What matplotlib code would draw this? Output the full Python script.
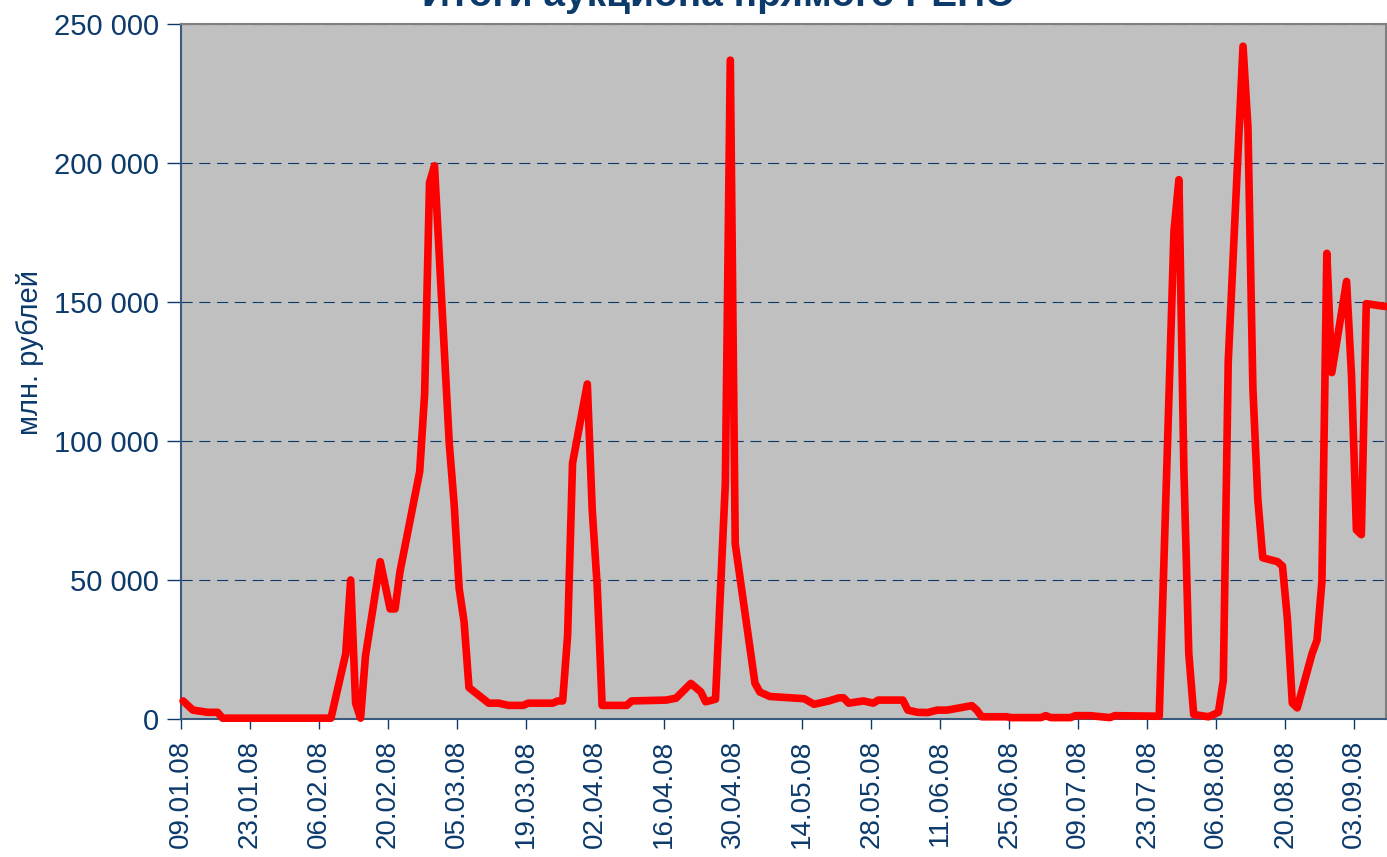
import numpy as np
import pandas as pd
import matplotlib
matplotlib.use("Agg")
import matplotlib.pyplot as plt
import matplotlib.dates as mdates
from matplotlib.ticker import FuncFormatter, FixedLocator

# Итоги аукциона прямого РЕПО, млн. рублей
dates = [
    "2008-01-09", "2008-01-11", "2008-01-14", "2008-01-16", "2008-01-17",
    "2008-02-08", "2008-02-11", "2008-02-12", "2008-02-13", "2008-02-14",
    "2008-02-15", "2008-02-18", "2008-02-20", "2008-02-21", "2008-02-22",
    "2008-02-26", "2008-02-27", "2008-02-28", "2008-02-29", "2008-03-03",
    "2008-03-04", "2008-03-05", "2008-03-06", "2008-03-07", "2008-03-11",
    "2008-03-13", "2008-03-15", "2008-03-18", "2008-03-19", "2008-03-24",
    "2008-03-25", "2008-03-26", "2008-03-27", "2008-03-28", "2008-03-31",
    "2008-04-01", "2008-04-02", "2008-04-03", "2008-04-08", "2008-04-09",
    "2008-04-16", "2008-04-18", "2008-04-21", "2008-04-23", "2008-04-24",
    "2008-04-26", "2008-04-28", "2008-04-29", "2008-04-30", "2008-05-04",
    "2008-05-05", "2008-05-07", "2008-05-14", "2008-05-16", "2008-05-19",
    "2008-05-21", "2008-05-22", "2008-05-23", "2008-05-26", "2008-05-28",
    "2008-05-29", "2008-06-03", "2008-06-04", "2008-06-06", "2008-06-08",
    "2008-06-10", "2008-06-12", "2008-06-17", "2008-06-18", "2008-06-19",
    "2008-06-24", "2008-06-25", "2008-07-01", "2008-07-02", "2008-07-03",
    "2008-07-07", "2008-07-08", "2008-07-11", "2008-07-15", "2008-07-16",
    "2008-07-25", "2008-07-28", "2008-07-29", "2008-07-30", "2008-07-31",
    "2008-08-01", "2008-08-04", "2008-08-06", "2008-08-07", "2008-08-08",
    "2008-08-11", "2008-08-12", "2008-08-13", "2008-08-14", "2008-08-15",
    "2008-08-18", "2008-08-19", "2008-08-20", "2008-08-21", "2008-08-22",
    "2008-08-25", "2008-08-26", "2008-08-27", "2008-08-28", "2008-08-29",
    "2008-09-01", "2008-09-02", "2008-09-03", "2008-09-04", "2008-09-05",
    "2008-09-08", "2008-09-09",
]

volume = [
    6500, 3200, 2400, 2400, 300,
    300, 23500, 50000, 5700, 300,
    22600, 56600, 39600, 39600, 53000,
    89000, 117000, 193000, 199000, 99000,
    77000, 47000, 35000, 11300, 5700,
    5700, 4900, 4900, 5700, 5700,
    6500, 6500, 30000, 92000, 120500,
    75000, 48000, 4900, 4900, 6500,
    6800, 7500, 12800, 9800, 6200,
    7100, 85000, 237000, 63000, 12900,
    9700, 8100, 7300, 5300, 6500,
    7600, 7600, 5700, 6500, 5700,
    6800, 6800, 3200, 2400, 2300,
    3200, 3200, 4800, 3200, 800,
    800, 500, 500, 1200, 500,
    500, 1200, 1200, 500, 1200,
    1000, 175600, 194000, 90000, 23500,
    1600, 800, 2400, 13800, 128600,
    242000, 212800, 119000, 79000, 58000,
    56600, 55000, 36000, 5700, 4000,
    23500, 28300, 49400, 167500, 124600,
    157400, 123800, 68000, 66300, 149400,
    148600, 148400,
]

title = "Итоги аукциона прямого РЕПО"
y_label = "млн. рублей"

navy = "#0B3A6B"

plt.rcParams['font.family'] = ['Liberation Sans', 'DejaVu Sans']

fig = plt.figure(figsize=(13.87, 8.57), dpi=100)
ax = fig.add_axes([181 / 1387, 138 / 857, 1205 / 1387, 695 / 857])
ax.set_facecolor("#C0C0C0")

# shift half a day so the marks sit where the source chart puts them
x = pd.to_datetime(dates) + pd.Timedelta(hours=10)
ax.plot(x, volume, color="#FF0000", linewidth=5.5, solid_joinstyle="round",
        solid_capstyle="round", clip_on=False, zorder=3)

ax.set_xlim(pd.Timestamp("2008-01-09"), pd.Timestamp("2008-09-09 10:00"))
ax.set_ylim(0, 250000)

# ticks every two weeks
ticks = pd.date_range("2008-01-09", "2008-09-09", freq="14D")
ax.xaxis.set_major_locator(FixedLocator(mdates.date2num(ticks)))
ax.xaxis.set_major_formatter(mdates.DateFormatter("%d.%m.%y"))
ax.set_yticks(np.arange(0, 250001, 50000))
ax.yaxis.set_major_formatter(FuncFormatter(lambda v, p: f"{v:,.0f}".replace(",", " ")))

ax.tick_params(axis="x", labelrotation=90, labelsize=20, colors=navy,
               length=7, width=1, pad=8, direction="out")
ax.tick_params(axis="y", labelsize=21, colors=navy, length=10, width=1,
               pad=6, direction="out")

ax.grid(axis="y", color=navy, linestyle=(0, (10, 6)), linewidth=0.8)
ax.set_axisbelow(True)

for s in ["left", "bottom"]:
    ax.spines[s].set_color("#3A5A80")
    ax.spines[s].set_linewidth(1.5)
for s in ["top", "right"]:
    ax.spines[s].set_color("#808080")
    ax.spines[s].set_linewidth(1.5)

ax.set_ylabel(y_label, fontsize=21, color=navy, va="center")
ax.yaxis.set_label_coords(-0.125, 0.528)

fig.text(0.518, 0.993, title, ha="center", va="baseline", fontsize=28,
         fontweight="bold", color=navy)

fig.savefig("out.png", dpi=100)
